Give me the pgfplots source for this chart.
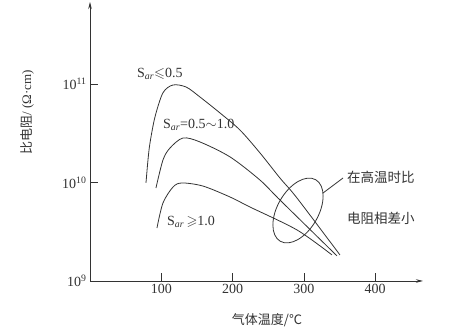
\documentclass[border=0pt]{standalone}
\usepackage{amssymb}
\usepackage{fontspec}
\setmainfont{Liberation Serif}
\newfontfamily\cjk{Noto Sans CJK SC}
\usepackage{pgfplots}
\pgfplotsset{compat=1.18}
\usetikzlibrary{arrows.meta}
\definecolor{ink}{HTML}{333333}
\begin{document}
\begin{tikzpicture}[x=1pt,y=1pt]
\path[use as bounding box] (0,0) rectangle (463,330);
\begin{axis}[
  at={(90pt,49pt)}, anchor=south west,
  scale only axis, width=333pt, height=279pt,
  xmin=0, xmax=467,
  ymode=log, ymin=1e9, ymax=6.8e11,
  axis lines=left,
  axis line style={ink, line width=0.7pt, -{Stealth[length=7pt,width=3.5pt]}},
  xtick={100,200,300,400},
  ytick={1e9,1e10,1e11},
  yticklabels={10\textsuperscript{9},10\textsuperscript{10},10\textsuperscript{11}},
  yminorticks=false,
  tick align=inside,
  major tick length=8pt,
  tick style={ink, line width=0.5pt},
  /pgf/number format/assume math mode=true,
  tick label style={font=\fontsize{14}{16}\selectfont, text=ink},
  clip=false,
]
\addplot[ink, line width=0.8pt, smooth, tension=0.5] coordinates {
(78.5,9.89e9) (81.3,1.69e10) (84.1,2.51e10) (91.1,4.62e10) (102.3,8.13e10)
(116.4,9.77e10) (135.0,9.3e10) (154.2,7.38e10) (182.3,5.08e10) (210.3,3.41e10)
(238.3,2.0e10) (266.4,1.11e10) (290.2,6.97e9) (350.5,1.84e9)};
\addplot[ink, line width=0.8pt, smooth, tension=0.5] coordinates {
(92.5,8.79e9) (102.3,1.69e10) (112.2,2.24e10) (130.4,2.83e10) (154.2,2.58e10)
(196.3,1.82e10) (238.3,1.06e10) (266.4,6.64e9) (346.3,1.80e9)};
\addplot[ink, line width=0.8pt, smooth, tension=0.5] coordinates {
(93.9,3.45e9) (102.3,6.19e9) (116.4,8.99e9) (129.0,9.89e9) (158.4,9.2e9)
(196.3,7.13e9) (224.3,5.64e9) (290.2,3.30e9) (339.3,1.84e9)};
\end{axis}
\draw[ink, line width=0.8pt, rotate around={60:(298,119.5)}] (298,119.5) ellipse (35.5 and 20.5);
\draw[ink, line width=0.8pt] (323,137) -- (343,152);
\node[anchor=west, inner sep=0, text=ink, font=\cjk\fontsize{13.5}{15}\selectfont] at (347,153) {在高温时比};
\node[anchor=west, inner sep=0, text=ink, font=\cjk\fontsize{13.5}{15}\selectfont] at (347,112) {电阻相差小};
\node[anchor=west, inner sep=0, text=ink, font=\fontsize{14}{16}\selectfont] at (137,256) {S\textsubscript{\textit{ar}}$\leqslant$0.5};
\node[anchor=west, inner sep=0, text=ink, font=\fontsize{14}{16}\selectfont] at (163,205) {S\textsubscript{\textit{ar}}=0.5$\sim$1.0};
\node[anchor=west, inner sep=0, text=ink, font=\fontsize{14}{16}\selectfont] at (167,108) {S\textsubscript{\textit{ar}}\,$\geqslant$1.0};
\node[text=ink, font=\cjk\fontsize{13}{15}\selectfont] at (267,10) {气体温度/℃};
\node[rotate=90, text=ink, font=\fontsize{13}{15}\selectfont] at (27,218) {{\cjk 比电阻}/ (Ω·cm)};
\end{tikzpicture}
\end{document}
